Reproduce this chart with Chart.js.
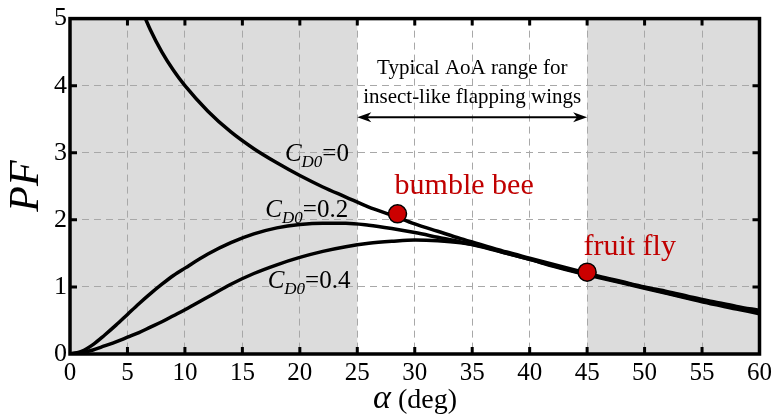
<!DOCTYPE html>
<html>
<head>
<meta charset="utf-8">
<script src="https://cdn.jsdelivr.net/npm/chart.js@4"></script>
<style>
  html, body { margin: 0; padding: 0; background: #fff; }
  #wrap { width: 776px; height: 419px; }
</style>
</head>
<body>
<div id="wrap"><canvas id="chart" width="776" height="419"></canvas></div>
<script>
// angle of attack (deg)
const alphaDeg = [0,1,2,3,4,5,6,7,8,9,10,12,14,16,18,20,22,24,26,28,30,32,34,36,38,40,42,44,46,48,50,52,54,56,58,60];
// power factor for C_D0 = 0, 0.2, 0.4
const pfCd0  = [null,null,null,null,null,null,5.23,4.83,4.50,4.23,4.00,3.62,3.31,3.06,2.85,2.66,2.49,2.34,2.19,2.07,1.94,1.83,1.72,1.62,1.52,1.43,1.34,1.25,1.16,1.08,1.00,0.93,0.85,0.78,0.71,0.65];
const pfCd02 = [0,0.04,0.14,0.28,0.43,0.59,0.75,0.90,1.04,1.17,1.28,1.49,1.66,1.79,1.88,1.93,1.95,1.95,1.92,1.87,1.81,1.74,1.67,1.59,1.50,1.41,1.32,1.23,1.15,1.07,0.99,0.91,0.83,0.76,0.69,0.62];
const pfCd04 = [0,0.02,0.06,0.12,0.18,0.25,0.32,0.40,0.48,0.57,0.66,0.85,1.04,1.20,1.33,1.44,1.53,1.60,1.65,1.68,1.70,1.69,1.66,1.60,1.50,1.41,1.31,1.22,1.14,1.06,0.98,0.90,0.82,0.74,0.67,0.60];

// insects
const insectNames = ['bumble bee', 'fruit fly'];
const insectAlpha = [28.5, 45];
const insectPF = [2.09, 1.22];

// ticks and shaded ranges
const xTicks = [0,5,10,15,20,25,30,35,40,45,50,55,60];
const yTicks = [0,1,2,3,4,5];
const shadeRanges = [[0, 25], [45, 60]];
const typicalRange = [25, 45];

const serif = '"Liberation Serif", "Times New Roman", serif';
const red = '#c00000';

const pts = ys => alphaDeg.map((a, i) => ({ x: a, y: ys[i] }));

const curveStyle = {
  borderColor: '#000', borderWidth: 3.5, pointRadius: 0,
  cubicInterpolationMode: 'monotone', fill: false, spanGaps: false
};

// label placement (data coords)
const cLabels = [
  { v: '0',   x: 18.7, y: 2.88 },
  { v: '0.2', x: 17.0, y: 2.04 },
  { v: '0.4', x: 17.2, y: 0.99 }
];
const insectLabels = [
  { x: 34.3, y: 2.50 },
  { x: 48.7, y: 1.59 }
];

const paperPlugin = {
  id: 'paper',
  beforeDraw(chart) {
    const { ctx, chartArea: a, scales: { x, y } } = chart;
    ctx.save();
    ctx.fillStyle = '#fff';
    ctx.fillRect(0, 0, chart.width, chart.height);
    ctx.fillStyle = '#dcdcdc';
    shadeRanges.forEach(r => {
      const x0 = x.getPixelForValue(r[0]), x1 = x.getPixelForValue(r[1]);
      ctx.fillRect(x0, a.top, x1 - x0, a.bottom - a.top);
    });
    ctx.restore();
  },
  afterDraw(chart) {
    const { ctx, chartArea: a, scales: { x, y } } = chart;
    ctx.save();
    // frame + inward ticks
    ctx.strokeStyle = '#000';
    ctx.lineWidth = 3.5;
    ctx.strokeRect(a.left, a.top, a.right - a.left, a.bottom - a.top);
    ctx.lineWidth = 3;
    ctx.beginPath();
    xTicks.slice(1, -1).forEach(v => {
      const px = x.getPixelForValue(v);
      ctx.moveTo(px, a.bottom); ctx.lineTo(px, a.bottom - 7);
      ctx.moveTo(px, a.top); ctx.lineTo(px, a.top + 7);
    });
    yTicks.slice(1, -1).forEach(v => {
      const py = y.getPixelForValue(v);
      ctx.moveTo(a.left, py); ctx.lineTo(a.left + 7, py);
      ctx.moveTo(a.right, py); ctx.lineTo(a.right - 7, py);
    });
    ctx.stroke();

    // typical range annotation
    ctx.fillStyle = '#000';
    ctx.font = '21px ' + serif;
    ctx.textAlign = 'center';
    ctx.textBaseline = 'middle';
    const xa = x.getPixelForValue(typicalRange[0]);
    const xb = x.getPixelForValue(typicalRange[1]);
    const xm = (xa + xb) / 2;
    ctx.fillText('Typical AoA range for', xm, 68);
    ctx.fillText('insect-like flapping wings', xm, 97);
    const ay = y.getPixelForValue(3.53);
    ctx.lineWidth = 2;
    ctx.beginPath();
    ctx.moveTo(xa + 8, ay); ctx.lineTo(xb - 8, ay);
    ctx.stroke();
    ctx.beginPath();
    ctx.moveTo(xa, ay); ctx.lineTo(xa + 14, ay - 5); ctx.lineTo(xa + 10, ay); ctx.lineTo(xa + 14, ay + 5); ctx.closePath();
    ctx.moveTo(xb, ay); ctx.lineTo(xb - 14, ay - 5); ctx.lineTo(xb - 10, ay); ctx.lineTo(xb - 14, ay + 5); ctx.closePath();
    ctx.fill();

    // C_D0 labels
    ctx.textAlign = 'left';
    ctx.textBaseline = 'alphabetic';
    cLabels.forEach(l => {
      let px = x.getPixelForValue(l.x);
      const py = y.getPixelForValue(l.y);
      ctx.font = 'italic 25px ' + serif;
      ctx.fillText('C', px, py);
      px += ctx.measureText('C').width;
      ctx.font = 'italic 17px ' + serif;
      ctx.fillText('D0', px, py + 6);
      px += ctx.measureText('D0').width;
      ctx.font = '25px ' + serif;
      ctx.fillText('=' + l.v, px, py);
    });

    // insect names
    ctx.fillStyle = red;
    ctx.font = '30px ' + serif;
    ctx.textAlign = 'center';
    ctx.textBaseline = 'middle';
    insectLabels.forEach((l, i) => {
      ctx.fillText(insectNames[i], x.getPixelForValue(l.x), y.getPixelForValue(l.y));
    });

    // axis titles
    ctx.fillStyle = '#000';
    ctx.save();
    ctx.translate(27, 186);
    ctx.rotate(-Math.PI / 2);
    ctx.font = 'italic 42px ' + serif;
    ctx.fillText('PF', 0, 0);
    ctx.restore();

    ctx.textAlign = 'left';
    ctx.textBaseline = 'alphabetic';
    ctx.font = 'italic 34px ' + serif;
    const wa = ctx.measureText('\u03b1').width;
    ctx.font = '28px ' + serif;
    const wd = ctx.measureText(' (deg)').width;
    let tx = 415 - (wa + wd) / 2;
    ctx.font = 'italic 34px ' + serif;
    ctx.fillText('\u03b1', tx, 408);
    ctx.font = '28px ' + serif;
    ctx.fillText(' (deg)', tx + wa, 408);
    ctx.restore();
  }
};

new Chart(document.getElementById('chart'), {
  type: 'line',
  data: {
    datasets: [
      { label: 'insects', type: 'scatter', data: insectAlpha.map((a, i) => ({ x: a, y: insectPF[i] })),
        pointRadius: 9, pointHoverRadius: 9, backgroundColor: '#cc0000', borderColor: '#000', borderWidth: 1.5 },
      { label: 'CD0=0', data: pts(pfCd0), ...curveStyle },
      { label: 'CD0=0.2', data: pts(pfCd02), ...curveStyle },
      { label: 'CD0=0.4', data: pts(pfCd04), ...curveStyle }
    ]
  },
  options: {
    responsive: false,
    animation: false,
    events: [],
    layout: { padding: { left: 0, top: 15, right: 16, bottom: 0 } },
    plugins: { legend: { display: false }, tooltip: { enabled: false } },
    scales: {
      x: {
        type: 'linear', min: 0, max: 60,
        afterFit: s => { s.height = 65; },
        afterBuildTicks: s => { s.ticks = xTicks.map(v => ({ value: v })); },
        grid: { color: '#a8a8a8', lineWidth: 1, drawTicks: false },
        border: { display: false, dash: [7, 5] },
        ticks: { color: '#000', font: { family: serif, size: 25 }, padding: 4, maxRotation: 0 }
      },
      y: {
        type: 'linear', min: 0, max: 5,
        afterFit: s => { s.width = 70; },
        afterBuildTicks: s => { s.ticks = yTicks.map(v => ({ value: v })); },
        grid: { color: '#a8a8a8', lineWidth: 1, drawTicks: false },
        border: { display: false, dash: [7, 5] },
        ticks: { color: '#000', font: { family: serif, size: 26 }, padding: 3 }
      }
    }
  },
  plugins: [paperPlugin]
});
</script>
</body>
</html>
